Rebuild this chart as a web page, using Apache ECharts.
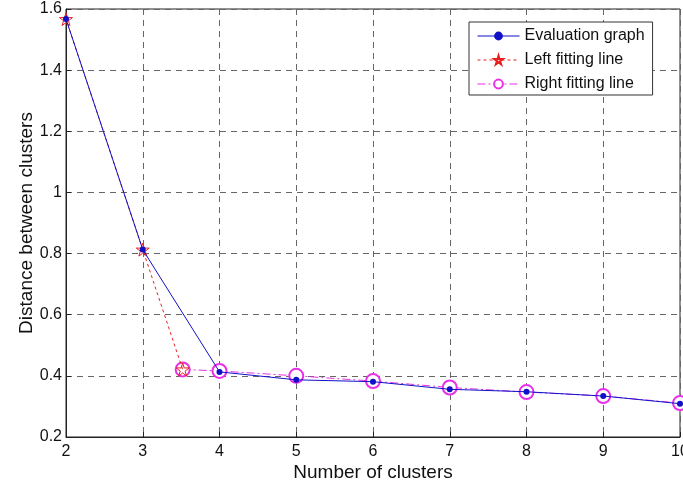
<!DOCTYPE html>
<html>
<head>
<meta charset="utf-8">
<script src="https://cdn.jsdelivr.net/npm/echarts@6/dist/echarts.min.js"></script>
<style>
  html, body { margin: 0; padding: 0; background: #fff; }
  #chart { width: 683px; height: 490px; }
</style>
</head>
<body>
<div id="chart"></div>
<script>
// values
var clusters = [2, 3, 4, 5, 6, 7, 8, 9, 10];
var evaluation = [1.567, 0.813, 0.413, 0.387, 0.381, 0.356, 0.348, 0.334, 0.309];
var leftX = [2, 3, 3.52];
var leftY = [1.567, 0.813, 0.421];
var rightX = [3.52, 4, 5, 6, 7, 8, 9, 10];
var rightY = [0.421, 0.416, 0.400, 0.383, 0.362, 0.347, 0.334, 0.311];
var seriesNames = ["Evaluation graph", "Left fitting line", "Right fitting line"];

var star = "path://M50,0 L61,35 L98,35 L68,57 L79,91 L50,70 L21,91 L32,57 L2,35 L39,35 Z";

function pairs(xs, ys) {
  return xs.map(function (x, i) { return [x, ys[i]]; });
}

var chart = echarts.init(document.getElementById("chart"));
chart.setOption({
  animation: false,
  textStyle: { fontFamily: "Liberation Sans" },
  grid: {
    left: 66, right: 3, top: 9, bottom: 53,
    outerBoundsMode: "none",
    containLabel: false,
    show: true, borderColor: "#222", borderWidth: 1
  },
  legend: {
    orient: "vertical",
    left: 469, top: 22,
    padding: [6, 8, 3, 8],
    itemGap: 8,
    itemWidth: 42,
    itemHeight: 11,
    backgroundColor: "#fff",
    borderColor: "#333",
    borderWidth: 1,
    borderRadius: 0,
    lineStyle: { width: 1 },
    textStyle: { fontSize: 16, color: "#111", fontFamily: "Liberation Sans" },
    data: seriesNames
  },
  xAxis: {
    type: "value",
    min: 2, max: 10, interval: 1,
    name: "Number of clusters",
    nameLocation: "middle",
    nameGap: 26,
    nameMoveOverlap: false,
    nameTextStyle: { fontSize: 19, color: "#111" },
    axisLine: { show: true, lineStyle: { color: "#222" } },
    axisTick: { inside: true, length: 5, lineStyle: { color: "#222" } },
    axisLabel: { fontSize: 16, color: "#111", margin: 7 },
    splitLine: { show: true, lineStyle: { color: "#666", type: [6, 5] } }
  },
  yAxis: {
    type: "value",
    min: 0.2, max: 1.6, interval: 0.2,
    name: "Distance between clusters",
    nameLocation: "middle",
    nameGap: 30,
    nameMoveOverlap: false,
    nameTextStyle: { fontSize: 19, color: "#111" },
    axisLine: { show: true, lineStyle: { color: "#222" } },
    axisTick: { inside: true, length: 5, lineStyle: { color: "#222" } },
    axisLabel: {
      fontSize: 16, color: "#111", margin: 4,
      formatter: function (v) { return String(Math.round(v * 10) / 10); }
    },
    splitLine: { show: true, lineStyle: { color: "#666", type: [6, 5] } }
  },
  series: [
    {
      name: seriesNames[1],
      type: "line",
      data: pairs(leftX, leftY),
      symbol: star,
      symbolSize: 13,
      showAllSymbol: true,
      color: "#e82020",
      itemStyle: { color: "rgba(255,255,255,0)", borderColor: "#e82020", borderWidth: 1 },
      lineStyle: { color: "#e82020", width: 1, type: [3, 3] },
      z: 3
    },
    {
      name: seriesNames[2],
      type: "line",
      data: pairs(rightX, rightY),
      symbol: "emptyCircle",
      symbolSize: 14,
      showAllSymbol: true,
      color: "#e830e8",
      itemStyle: { color: "#e830e8", borderWidth: 1 },
      lineStyle: { color: "#e830e8", width: 1, type: [8, 3, 2, 3] },
      z: 2
    },
    {
      name: seriesNames[0],
      type: "line",
      data: pairs(clusters, evaluation),
      symbol: "circle",
      symbolSize: 6,
      showAllSymbol: true,
      color: "#1010c8",
      itemStyle: { color: "#1010c8" },
      lineStyle: { color: "#1010c8", width: 1 },
      z: 4
    }
  ]
});
</script>
</body>
</html>
